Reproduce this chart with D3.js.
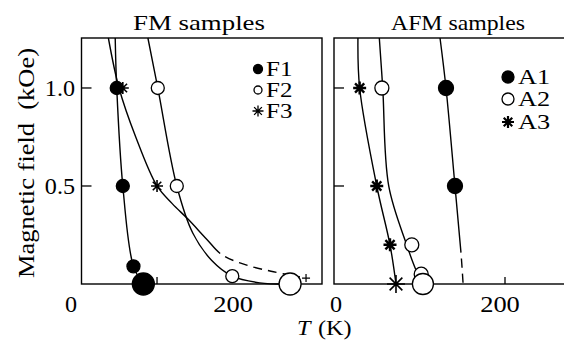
<!DOCTYPE html>
<html><head><meta charset="utf-8">
<script src="https://cdn.jsdelivr.net/npm/d3@7"></script>
<style>
html,body{margin:0;padding:0;background:#fff;}
svg text{font-family:"Liberation Serif","Times New Roman",serif;fill:#000;}
</style></head>
<body><svg id="c" width="564" height="343"></svg>
<script>
// ---------- data (T in K, H in kOe) ----------
const panels = ["FM samples", "AFM samples"];
const yTicks = [0.5, 1.0];
const yTickLabels = ["0.5", "1.0"];

// FM panel points
const F1pts = [[47,1.0,"s"],[55,0.5,"s"],[69,0.09,"s"],[82,0,"b"]];
const F2pts = [[101,1.0,"s"],[126,0.5,"s"],[199,0.04,"s"],[275,0,"b"]];
const F3pts = [[55,1.0],[100,0.5]];
// FM curves (dashStart: T where the line turns dashed)
const F1curve = [[45,1.255],[47,1.0],[55,0.5],[69,0.09],[82,0]];
const F2curve = [[88,1.255],[101,1.0],[126,0.5],[147,0.26],[172,0.12],[199,0.04],[235,0.006],[275,0]];
const F3curve = [[36,1.255],[50,1.0],[72,0.75],[100,0.5],[120,0.41],[141,0.33],[165,0.23],[185,0.15],[215,0.1],[250,0.065],[288,0.036]];
const F3dashStart = 183;
const F3end = [296,0.03];

// AFM panel points
const A1pts = [[131,1.0],[141.5,0.5]];
const A2pts = [[56,1.0,"s"],[91,0.2,"s"],[102,0.05,"s"],[104,0,"b"]];
const A3pts = [[30,1.0,"s"],[50,0.5,"s"],[65.5,0.2,"s"],[72.5,0,"b"]];
// AFM curves
const A1curve = [[124,1.255],[131,1.0],[141.5,0.5],[148.5,0.16],[151,0]];
const A1dashStart = 148.5;
const A2curve = [[53,1.255],[57,1.0],[64,0.5],[85,0.2],[96,0.07],[100,0.035]];
const A3curve = [[28,1.255],[30,1.0],[50,0.5],[65.5,0.2],[72.5,0]];

const legendFM = ["F1","F2","F3"];
const legendAFM = ["A1","A2","A3"];

// ---------- scales ----------
const svg = d3.select("#c");
const y = d3.scaleLinear().domain([0,1.255]).range([284,38]);
const xL = d3.scaleLinear().domain([0,317]).range([81,322]);
const xR = d3.scaleLinear().domain([0,270]).range([334,564.85]);

const SX = 1.18; // horizontal stretch of lettering in the reference
function txt(x,yy,t,size,anchor,k,italic){
  const e = svg.append("text").attr("x",x).attr("y",yy).attr("font-size",size)
    .attr("text-anchor",anchor||"start").attr("font-style",italic?"italic":null).text(t);
  const w = e.node().getComputedTextLength();
  e.attr("textLength",w*(k||SX)).attr("lengthAdjust","spacingAndGlyphs");
  return e;
}

function frame(x0,x1){
  svg.append("rect").attr("x",x0).attr("y",38).attr("width",x1-x0).attr("height",246)
    .attr("fill","none").attr("stroke","#000").attr("stroke-width",1.4);
}
frame(81.5,322);
frame(334,566);

// y ticks (inward)
yTicks.forEach((v,i)=>{
  [81.5,334].forEach(x0=>{
    svg.append("line").attr("x1",x0).attr("x2",x0+10).attr("y1",y(v)).attr("y2",y(v))
      .attr("stroke","#000").attr("stroke-width",1.3);
  });
  txt(75,y(v)+8,yTickLabels[i],23,"end",1.05);
});
// x ticks
svg.append("line").attr("x1",xL(100)).attr("x2",xL(100)).attr("y1",284).attr("y2",277).attr("stroke","#000").attr("stroke-width",1.3);
svg.append("line").attr("x1",xR(200)).attr("x2",xR(200)).attr("y1",284).attr("y2",277).attr("stroke","#000").attr("stroke-width",1.3);
txt(71,312,"0",23,"middle",1.05);
txt(xL(200),312,"200",23,"middle",1.15);
txt(336,312,"0",23,"middle",1.05);
txt(500,312,"200",23,"middle",1.15);

// axis labels
txt(297,335,"T",22,"start",1.1,true);
txt(318,335,"(K)",22,"start",1.1);
svg.append("text").attr("transform","translate(34,163) rotate(-90)").attr("text-anchor","middle")
  .attr("font-size",24).attr("textLength",230).attr("lengthAdjust","spacingAndGlyphs")
  .text("Magnetic field\u00a0\u00a0(kOe)");
// titles
txt(199,30,panels[0],22,"middle",1.22);
txt(458,30,panels[1],22,"middle",1.08);

// curves
const lineGen = xs => d3.line().x(d=>xs(d[0])).y(d=>y(d[1])).curve(d3.curveCatmullRom.alpha(0.5));
function curve(data,xs,dashFrom){
  const p = svg.append("path").attr("d",lineGen(xs)(data)).attr("fill","none").attr("stroke","#000")
    .attr("stroke-width",1.4);
  if(dashFrom!==undefined){
    const node=p.node(), L=node.getTotalLength(), xt=xs(dashFrom);
    let lo=0, hi=L;
    for(let k=0;k<40;k++){ const m=(lo+hi)/2; if(node.getPointAtLength(m).x<xt) lo=m; else hi=m; }
    const arr=[lo,6];
    for(let s=lo+6;s<L+30;s+=15) arr.push(9,6);
    p.attr("stroke-dasharray",arr.join(","));
  }
}
curve(F1curve,xL); curve(F2curve,xL); curve(F3curve,xL,F3dashStart);
curve(A1curve,xR,A1dashStart); curve(A2curve,xR); curve(A3curve,xR);
// end cross of F3
svg.append("path").attr("d",`M${xL(F3end[0])-4},${y(F3end[1])}h8M${xL(F3end[0])},${y(F3end[1])-4}v8`)
  .attr("stroke","#000").attr("stroke-width",1.2);

// markers
function circ(x,yy,r,filled){
  svg.append("circle").attr("cx",x).attr("cy",yy).attr("r",r)
    .attr("fill",filled?"#000":"#fff").attr("stroke","#000").attr("stroke-width",1.3);
}
function star(x,yy,r,w){
  let d="";
  for(let k=0;k<4;k++){
    const a=k*Math.PI/4; const dx=r*Math.cos(a), dy=r*Math.sin(a);
    d+=`M${x-dx},${yy-dy}L${x+dx},${yy+dy}`;
  }
  svg.append("path").attr("d",d).attr("stroke","#000").attr("stroke-width",w||2).attr("fill","none");
}
F1pts.forEach(p=>circ(xL(p[0]),y(p[1]),p[2]==="b"?11:6.5,true));
F2pts.forEach(p=>circ(xL(p[0]),y(p[1]),p[2]==="b"?11:6.5,false));
F3pts.forEach(p=>star(xL(p[0]),y(p[1]),6,1.6));
A1pts.forEach(p=>circ(xR(p[0]),y(p[1]),7.5,true));
A2pts.forEach(p=>circ(xR(p[0]),y(p[1]),p[2]==="b"?10.5:7,false));
A3pts.forEach(p=>star(xR(p[0]),y(p[1]),p[2]==="b"?9:6.5,p[2]==="b"?1.6:2.4));

// legends
const lf = [69,90,111];
circ(258,lf[0],4.5,true); circ(258,lf[1],4,false); star(258,lf[2],5.5,1.3);
legendFM.forEach((t,i)=>txt(266,lf[i]+7,t,20,"start",1.25));
const la = [77,99,122];
circ(508,la[0],6,true); circ(508,la[1],6,false); star(508,la[2],6,2.2);
legendAFM.forEach((t,i)=>txt(518,la[i]+7,t,21,"start",1.25));
</script></body></html>
